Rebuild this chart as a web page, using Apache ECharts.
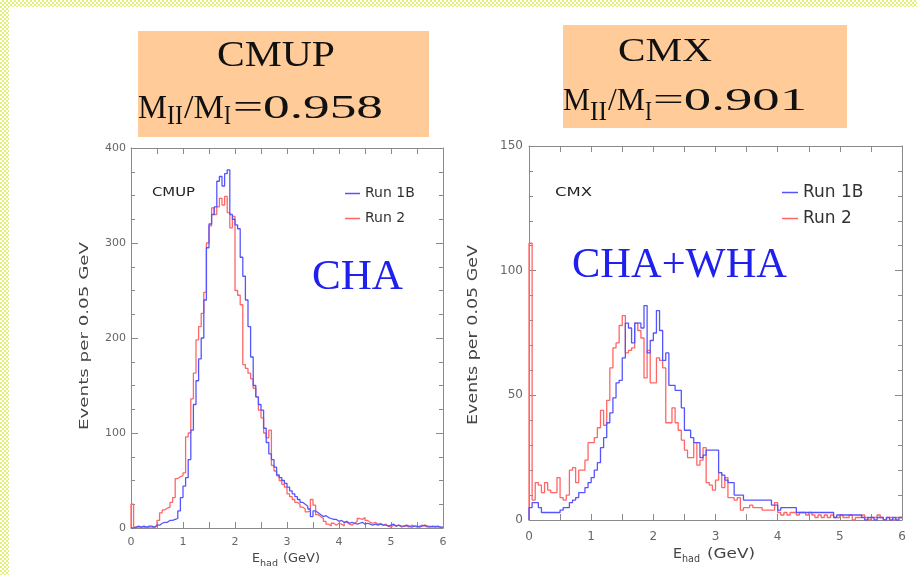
<!DOCTYPE html>
<html>
<head>
<meta charset="utf-8">
<script src="https://cdn.jsdelivr.net/npm/echarts@6/dist/echarts.min.js"></script>
<style>
  html, body { margin: 0; padding: 0; background: #ffffff; }
  #chart { position: absolute; left: 0; top: 0; width: 917px; height: 575px; }
  .band { position: absolute; z-index: 5;
          background: repeating-conic-gradient(#e2ef78 0 25%, #ffffff 0 50%) 0 0 / 4px 4px; }
</style>
</head>
<body>
<div id="chart"></div>
<div class="band" style="left:0;top:0;width:917px;height:7px"></div>
<div class="band" style="left:0;top:0;width:9px;height:575px"></div>
<script>
// Hadronic energy histograms, 0.05 GeV bins from 0 to 6 GeV (120 bins each)
const binWidth = 0.05;
const xTickLabels = [0, 1, 2, 3, 4, 5, 6];
const seriesNames = ['Run 1B', 'Run 2'];

const cmupRun1B = [
  0, 1, 2, 1, 2, 1, 2, 2, 1, 3,
  3, 5, 6, 6, 8, 8, 9, 10, 18, 32,
  44, 53, 72, 103, 130, 155, 178, 200, 240, 295,
  320, 330, 338, 365, 370, 360, 373, 377, 330, 325,
  319, 315, 285, 265, 240, 212, 180, 150, 138, 130,
  124, 105, 90, 78, 72, 64, 56, 53, 50, 47,
  43, 39, 36, 33, 30, 27, 25, 23, 20, 12,
  18, 16, 14, 12, 13, 11, 10, 9, 9, 7,
  8, 6, 7, 5, 6, 5, 4, 5, 6, 4,
  5, 4, 3, 4, 3, 4, 3, 3, 2, 3,
  4, 2, 3, 2, 2, 3, 2, 1, 2, 2,
  1, 2, 3, 2, 1, 2, 1, 2, 1, 1
];
const cmupRun2 = [
  25, 1, 0, 1, 1, 0, 1, 1, 0, 2,
  8, 16, 19, 21, 22, 27, 32, 52, 54, 55,
  58, 96, 100, 136, 163, 198, 212, 226, 248, 300,
  318, 337, 330, 338, 347, 340, 349, 332, 316, 328,
  250, 245, 235, 172, 168, 163, 157, 147, 138, 124,
  116, 100, 95, 103, 66, 60, 55, 50, 46, 43,
  36, 33, 30, 27, 25, 22, 20, 17, 18, 30,
  24, 14, 12, 10, 7, 4, 2, 5, 3, 5,
  4, 2, 6, 4, 3, 5, 7, 10, 9, 11,
  8, 6, 5, 6, 4, 5, 3, 4, 2, 1,
  3, 2, 3, 1, 2, 2, 1, 3, 2, 1,
  2, 3, 2, 1, 2, 1, 2, 1, 1, 0
];
const cmxRun1B = [
  5, 7, 7, 5, 3, 3, 3, 3, 3, 3,
  4, 5, 5, 7, 8, 9, 11, 11, 13, 15,
  17, 20, 23, 29, 33, 39, 43, 49, 55, 56,
  65, 79, 77, 71, 79, 79, 77, 86, 67, 72,
  75, 84, 76, 64, 67, 54, 54, 52, 52, 45,
  36, 36, 33, 31, 31, 25, 26, 28, 28, 28,
  28, 19, 18, 16, 15, 15, 10, 10, 10, 8,
  8, 8, 8, 8, 8, 8, 8, 8, 6, 6,
  4, 5, 5, 5, 5, 5, 3, 3, 3, 3,
  3, 3, 3, 3, 3, 3, 3, 3, 1, 2,
  2, 2, 2, 2, 2, 2, 2, 1, 0, 1,
  1, 0, 1, 1, 0, 1, 0, 1, 0, 1
];
const cmxRun2 = [
  111, 8, 15, 14, 11, 15, 12, 11, 11, 17,
  9, 8, 10, 20, 21, 15, 20, 20, 24, 31,
  31, 33, 37, 44, 38, 48, 61, 69, 71, 78,
  82, 67, 68, 69, 79, 76, 73, 57, 68, 55,
  55, 65, 64, 61, 39, 39, 45, 39, 36, 32,
  28, 25, 25, 31, 22, 24, 29, 15, 14, 12,
  16, 19, 13, 17, 9, 9, 8, 9, 4, 5,
  5, 6, 5, 5, 5, 4, 4, 4, 4, 7,
  3, 2, 3, 2, 3, 3, 2, 3, 3, 2,
  3, 2, 1, 2, 1, 2, 1, 2, 1, 1,
  2, 1, 1, 2, 0, 1, 1, 2, 1, 0,
  1, 1, 2, 1, 0, 1, 1, 0, 1, 1
];

// Step outline: [left edge, count] per bin, closed on the left at 0 and on the right at 6 GeV
function histPoints(counts) {
  const pts = [[0, 0]];
  counts.forEach((c, i) => pts.push([+(i * binWidth).toFixed(2), c]));
  pts.push([+(counts.length * binWidth).toFixed(2), counts[counts.length - 1]]);
  return pts;
}

// Text helper: stretch a string horizontally so it spans the given width
const measureCtx = document.createElement('canvas').getContext('2d');
function textWidth(str, size, family) {
  measureCtx.font = size + 'px ' + family;
  return measureCtx.measureText(str).width;
}
function fitText(str, left, cy, width, size, family, color) {
  const w = textWidth(str, size, family);
  return {
    type: 'text', x: left, y: cy, scaleX: width / w, silent: true, z: 10,
    style: { text: str, font: size + 'px ' + family, fill: color,
             align: 'left', verticalAlign: 'middle', textAlign: 'left', textVerticalAlign: 'middle' }
  };
}
function fitVertical(str, cx, cy, length, size, family, color) {
  const w = textWidth(str, size, family);
  return {
    type: 'text', x: cx, y: cy, rotation: Math.PI / 2, scaleX: length / w, silent: true, z: 10,
    style: { text: str, font: size + 'px ' + family, fill: color,
             align: 'center', verticalAlign: 'middle', textAlign: 'center', textVerticalAlign: 'middle' }
  };
}

const SERIF = '"Liberation Serif", "Times New Roman", serif';
const SANS = '"DejaVu Sans", sans-serif';
const FRAME = '#8a8a8a';
const BLUE = '#5555ff';
const RED = '#ff6666';

function xAxisDef(grid, pos, showLabel, fs, margin) {
  return {
    type: 'value', gridIndex: grid, position: pos, min: 0, max: 6, interval: 1,
    axisLine: { show: true, onZero: false, lineStyle: { color: FRAME, width: 1 } },
    axisTick: { show: true, inside: true, length: 6, lineStyle: { color: FRAME } },
    minorTick: { show: true, splitNumber: 2, length: 6, lineStyle: { color: FRAME } },
    splitLine: { show: false }, minorSplitLine: { show: false },
    axisLabel: { show: showLabel, margin: margin, color: '#666', fontSize: fs, fontFamily: SANS,
                 formatter: v => (xTickLabels.indexOf(v) >= 0 ? String(v) : '') }
  };
}
function yAxisDef(grid, pos, showLabel, max, step, minorSplit, fs, margin) {
  return {
    type: 'value', gridIndex: grid, position: pos, min: 0, max: max, interval: step,
    axisLine: { show: true, onZero: false, lineStyle: { color: FRAME, width: 1 } },
    axisTick: { show: true, inside: true, length: 7, lineStyle: { color: FRAME } },
    minorTick: { show: true, splitNumber: minorSplit, length: 4, lineStyle: { color: FRAME } },
    splitLine: { show: false }, minorSplitLine: { show: false },
    axisLabel: { show: showLabel, margin: margin, color: '#666', fontSize: fs, fontFamily: SANS }
  };
}
function histSeries(name, counts, color, xi, yi) {
  return {
    name: name, type: 'line', xAxisIndex: xi, yAxisIndex: yi, step: 'end',
    data: histPoints(counts), showSymbol: false, symbol: 'none',
    lineStyle: { color: color, width: 1.3 }, itemStyle: { color: color },
    emphasis: { disabled: true }, z: 3
  };
}

const graphics = [
  // title boxes
  { type: 'rect', shape: { x: 138, y: 31, width: 291, height: 106 }, style: { fill: '#ffcc99' }, silent: true, z: 1 },
  { type: 'rect', shape: { x: 563, y: 25, width: 284, height: 103 }, style: { fill: '#ffcc99' }, silent: true, z: 1 },
  // CMUP box
  fitText('CMUP', 217, 57, 118, 35, SERIF, '#111'),
  fitText('M', 138, 109, 29, 33, SERIF, '#111'),
  fitText('II', 167, 117, 16, 28, SERIF, '#111'),
  fitText('/M', 184, 109, 40, 33, SERIF, '#111'),
  fitText('I', 224, 117, 7, 28, SERIF, '#111'),
  fitText('=0.958', 233, 109, 150, 33, SERIF, '#111'),
  // CMX box
  fitText('CMX', 618, 52, 94, 33, SERIF, '#111'),
  fitText('M', 563, 102, 27, 31, SERIF, '#111'),
  fitText('II', 590, 113, 17, 27, SERIF, '#111'),
  fitText('/M', 608, 102, 37, 31, SERIF, '#111'),
  fitText('I', 645, 113, 7, 27, SERIF, '#111'),
  fitText('=0.901', 653, 102, 154, 31, SERIF, '#111'),
  // in-frame labels
  fitText('CMUP', 152, 193, 43, 13, SANS, '#222'),
  fitText('CMX', 555, 193, 37, 13, SANS, '#222'),
  fitText('CHA', 312, 278, 91, 42, SERIF, '#2020ee'),
  fitText('CHA+WHA', 572, 266, 215, 42, SERIF, '#2020ee'),
  // axis titles
  fitVertical('Events per 0.05 GeV', 85, 336, 188, 13, SANS, '#444'),
  fitVertical('Events per 0.05 GeV', 473, 335, 180, 14, SANS, '#444'),
  fitText('E', 252, 559, 8, 13, SANS, '#444'),
  fitText('had', 260, 564, 18, 9, SANS, '#444'),
  fitText('(GeV)', 283, 559, 37, 13, SANS, '#444'),
  fitText('E', 673, 554, 9, 14, SANS, '#444'),
  fitText('had', 682, 559, 18, 10, SANS, '#444'),
  fitText('(GeV)', 707, 554, 48, 14, SANS, '#444')
];

const option = {
  animation: false,
  backgroundColor: '#ffffff',
  grid: [
    { left: 131, top: 148, width: 312, height: 380, containLabel: false, outerBoundsMode: 'none' },
    { left: 529, top: 146, width: 373, height: 374, containLabel: false, outerBoundsMode: 'none' }
  ],
  xAxis: [
    xAxisDef(0, 'bottom', true, 11, 9),
    xAxisDef(0, 'top', false, 11, 9),
    xAxisDef(1, 'bottom', true, 12, 11),
    xAxisDef(1, 'top', false, 12, 11)
  ],
  yAxis: [
    yAxisDef(0, 'left', true, 400, 100, 4, 11, 5),
    yAxisDef(0, 'right', false, 400, 100, 4, 11, 5),
    yAxisDef(1, 'left', true, 150, 50, 5, 12, 6),
    yAxisDef(1, 'right', false, 150, 50, 5, 12, 6)
  ],
  legend: [
    { data: seriesNames, orient: 'vertical', left: 340, top: 181, icon: 'rect',
      itemWidth: 15, itemHeight: 1.5, itemGap: 10, selectedMode: false,
      textStyle: { fontFamily: SANS, fontSize: 14, color: '#333', lineHeight: 15 } },
    { data: seriesNames, orient: 'vertical', left: 777, top: 179, icon: 'rect',
      itemWidth: 16, itemHeight: 1.5, itemGap: 9, selectedMode: false,
      textStyle: { fontFamily: SANS, fontSize: 17, color: '#333', lineHeight: 16 } }
  ],
  graphic: graphics,
  series: [
    histSeries('Run 2', cmupRun2, RED, 0, 0),
    histSeries('Run 1B', cmupRun1B, BLUE, 0, 0),
    histSeries('Run 2', cmxRun2, RED, 2, 2),
    histSeries('Run 1B', cmxRun1B, BLUE, 2, 2)
  ]
};

const chart = echarts.init(document.getElementById('chart'), null, { renderer: 'canvas' });
chart.setOption(option);
</script>
</body>
</html>
